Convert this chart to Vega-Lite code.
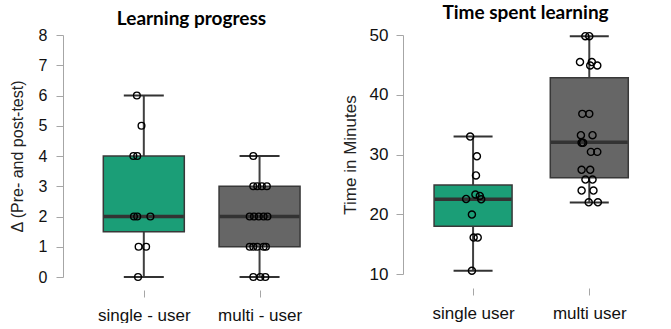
{
  "$schema": "https://vega.github.io/schema/vega-lite/v6.json",
  "background": "white",
  "padding": {"left": 9, "top": 4, "right": 0, "bottom": 0},
  "spacing": 69,
  "bounds": "flush",
  "config": {
    "view": {"stroke": null},
    "font": "Liberation Sans",
    "axis": {"grid": false, "labelFont": "Liberation Sans", "titleFont": "Liberation Sans", "labelColor": "#111111", "titleColor": "#222222", "titleFontWeight": "normal", "domainColor": "#a6a6a6", "tickColor": "#a6a6a6", "tickSize": 7, "labelOverlap": false, "labelSeparation": 0}
  },
  "datasets": {
    "lp_box": [
      {"group": "single", "x": 1, "lo": 0, "q1": 1.5, "med": 2, "q3": 4, "hi": 6},
      {"group": "multi", "x": 2, "lo": 0, "q1": 1, "med": 2, "q3": 3, "hi": 4}
    ],
    "lp_points": [
      {"x": 0.94, "v": 6}, {"x": 0.98, "v": 5}, {"x": 0.91, "v": 4}, {"x": 0.943, "v": 4},
      {"x": 0.915, "v": 2}, {"x": 0.943, "v": 2}, {"x": 1.057, "v": 2},
      {"x": 0.955, "v": 1}, {"x": 1.02, "v": 1}, {"x": 0.95, "v": 0},
      {"x": 1.946, "v": 4},
      {"x": 1.946, "v": 3}, {"x": 1.98, "v": 3}, {"x": 2.02, "v": 3}, {"x": 2.063, "v": 3},
      {"x": 1.915, "v": 2}, {"x": 1.952, "v": 2}, {"x": 1.993, "v": 2}, {"x": 2.035, "v": 2}, {"x": 2.068, "v": 2},
      {"x": 1.915, "v": 1}, {"x": 1.946, "v": 1}, {"x": 1.98, "v": 1}, {"x": 2.035, "v": 1}, {"x": 2.055, "v": 1},
      {"x": 1.946, "v": 0}, {"x": 2.007, "v": 0}, {"x": 2.05, "v": 0}
    ],
    "tm_box": [
      {"group": "single", "x": 1, "lo": 10.55, "q1": 18.0, "med": 22.5, "q3": 24.9, "hi": 33.0},
      {"group": "multi", "x": 2, "lo": 21.95, "q1": 26.1, "med": 32.07, "q3": 42.85, "hi": 49.8}
    ],
    "tm_points": [
      {"x": 0.975, "v": 33.0}, {"x": 1.033, "v": 29.7}, {"x": 1.025, "v": 26.5},
      {"x": 1.02, "v": 23.3}, {"x": 1.058, "v": 23.07}, {"x": 0.94, "v": 22.57}, {"x": 1.07, "v": 22.5},
      {"x": 0.99, "v": 19.95}, {"x": 1.005, "v": 16.1}, {"x": 1.04, "v": 16.1}, {"x": 0.99, "v": 10.55},
      {"x": 1.966, "v": 49.8}, {"x": 2.0, "v": 49.8},
      {"x": 1.92, "v": 45.47}, {"x": 2.022, "v": 45.47}, {"x": 2.008, "v": 44.9}, {"x": 2.069, "v": 44.9},
      {"x": 1.94, "v": 36.8}, {"x": 2.0, "v": 36.8},
      {"x": 1.928, "v": 33.24}, {"x": 2.028, "v": 33.24},
      {"x": 1.934, "v": 31.95}, {"x": 1.947, "v": 31.95},
      {"x": 2.014, "v": 30.44}, {"x": 2.069, "v": 30.44},
      {"x": 1.934, "v": 27.43}, {"x": 2.008, "v": 27.43},
      {"x": 1.967, "v": 25.8}, {"x": 2.028, "v": 25.8},
      {"x": 1.934, "v": 23.96}, {"x": 2.036, "v": 23.96},
      {"x": 1.995, "v": 22.0}, {"x": 2.074, "v": 22.0}
    ]
  },
  "hconcat": [
    {
      "width": 271,
      "height": 242,
      "title": {"text": "Learning progress", "font": "Lato", "fontWeight": "bold", "fontSize": 19, "color": "#000000", "anchor": "middle", "frame": "group", "dx": -7, "offset": -2},
      "encoding": {
        "x": {"field": "x", "type": "quantitative", "scale": {"domain": [0.345, 2.6], "nice": false, "zero": false},
          "axis": {"values": [1, 2], "labelExpr": "datum.value == 1 ? 'single - user' : 'multi - user'", "title": null, "domain": false, "offset": 13, "labelPadding": 10, "labelFontSize": 17, "labelFlush": false}},
        "y": {"type": "quantitative", "scale": {"domain": [0, 8], "nice": false, "zero": false},
          "axis": {"values": [0, 1, 2, 3, 4, 5, 6, 7, 8], "tickCount": 9, "labelOverlap": false, "labelSeparation": 0, "labelBound": false, "title": "Δ (Pre- and post-test)", "titleFontSize": 16, "labelFontSize": 16, "labelPadding": 9, "titlePadding": 13}}
      },
      "layer": [
        {
          "data": {"name": "lp_box"},
          "mark": {"type": "rule", "color": "#404040", "strokeWidth": 2},
          "encoding": {"y": {"field": "lo"}, "y2": {"field": "hi"}}
        },
        {
          "data": {"name": "lp_box"},
          "mark": {"type": "bar", "size": 81, "stroke": "#383838", "strokeWidth": 1.5},
          "encoding": {
            "y": {"field": "q1"},
            "y2": {"field": "q3"},
            "color": {"field": "group", "type": "nominal", "scale": {"domain": ["single", "multi"], "range": ["#1b9e77", "#666666"]}, "legend": null}
          }
        },
        {
          "data": {"name": "lp_box"},
          "mark": {"type": "tick", "orient": "horizontal", "size": 80, "thickness": 3.5, "color": "#333333", "opacity": 1},
          "encoding": {"y": {"field": "med"}}
        },
        {
          "data": {"name": "lp_box"},
          "mark": {"type": "tick", "orient": "horizontal", "size": 40, "thickness": 2, "color": "#333333", "opacity": 1},
          "encoding": {"y": {"field": "lo"}}
        },
        {
          "data": {"name": "lp_box"},
          "mark": {"type": "tick", "orient": "horizontal", "size": 40, "thickness": 2, "color": "#333333", "opacity": 1},
          "encoding": {"y": {"field": "hi"}}
        },
        {
          "data": {"name": "lp_points"},
          "mark": {"type": "point", "shape": "circle", "filled": false, "stroke": "#000000", "strokeWidth": 1.4, "size": 45, "opacity": 1},
          "encoding": {"y": {"field": "v"}}
        }
      ]
    },
    {
      "width": 261,
      "height": 239,
      "title": {"text": "Time spent learning", "font": "Lato", "fontWeight": "bold", "fontSize": 19, "color": "#000000", "anchor": "middle", "frame": "group", "dx": -8, "offset": 3},
      "encoding": {
        "x": {"field": "x", "type": "quantitative", "scale": {"domain": [0.44, 2.6], "nice": false, "zero": false},
          "axis": {"values": [1, 2], "labelExpr": "datum.value == 1 ? 'single user' : 'multi user'", "title": null, "domain": false, "offset": 14, "labelPadding": 10, "labelFontSize": 17, "labelFlush": false}},
        "y": {"type": "quantitative", "scale": {"domain": [10, 50], "nice": false, "zero": false},
          "axis": {"values": [10, 20, 30, 40, 50], "labelOverlap": false, "title": "Time in Minutes", "titleFontSize": 17, "labelFontSize": 17, "labelPadding": 8, "titlePadding": 10}}
      },
      "layer": [
        {
          "data": {"name": "tm_box"},
          "mark": {"type": "rule", "color": "#404040", "strokeWidth": 2},
          "encoding": {"y": {"field": "lo"}, "y2": {"field": "hi"}}
        },
        {
          "data": {"name": "tm_box"},
          "mark": {"type": "bar", "size": 78, "stroke": "#383838", "strokeWidth": 1.5},
          "encoding": {
            "y": {"field": "q1"},
            "y2": {"field": "q3"},
            "color": {"field": "group", "type": "nominal", "scale": {"domain": ["single", "multi"], "range": ["#1b9e77", "#666666"]}, "legend": null}
          }
        },
        {
          "data": {"name": "tm_box"},
          "mark": {"type": "tick", "orient": "horizontal", "size": 77, "thickness": 3.5, "color": "#333333", "opacity": 1},
          "encoding": {"y": {"field": "med"}}
        },
        {
          "data": {"name": "tm_box"},
          "mark": {"type": "tick", "orient": "horizontal", "size": 39, "thickness": 2, "color": "#333333", "opacity": 1},
          "encoding": {"y": {"field": "lo"}}
        },
        {
          "data": {"name": "tm_box"},
          "mark": {"type": "tick", "orient": "horizontal", "size": 39, "thickness": 2, "color": "#333333", "opacity": 1},
          "encoding": {"y": {"field": "hi"}}
        },
        {
          "data": {"name": "tm_points"},
          "mark": {"type": "point", "shape": "circle", "filled": false, "stroke": "#000000", "strokeWidth": 1.4, "size": 50, "opacity": 1},
          "encoding": {"y": {"field": "v"}}
        }
      ]
    }
  ]
}
